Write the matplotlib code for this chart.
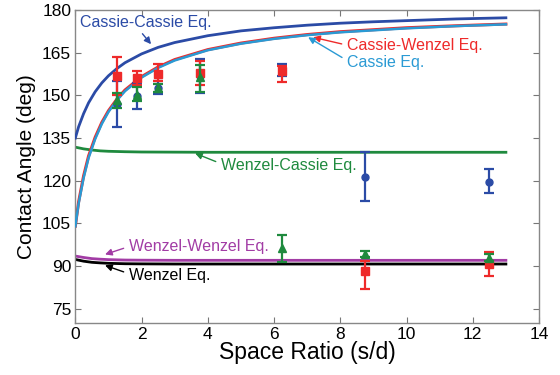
import matplotlib
matplotlib.use("Agg")
import matplotlib.pyplot as plt

plt.rcParams['font.family'] = ['Liberation Sans', 'DejaVu Sans']

# ---- data ----
x_pts = [1.25, 1.875, 2.5, 3.75, 6.25, 8.75, 12.5]

blue_y = [147.0, 149.8, 152.5, 156.8, 159.0, 121.4, 119.7]
blue_lo = [138.8, 145.3, 150.4, 150.8, 157.0, 112.8, 115.8]
blue_hi = [155.1, 154.3, 154.9, 162.7, 161.0, 130.1, 124.0]

red_y = [157.0, 156.2, 157.7, 157.8, 158.7, 88.4, 90.6]
red_lo = [150.2, 153.5, 154.9, 153.5, 154.6, 81.9, 86.6]
red_hi = [163.5, 158.5, 161.0, 162.1, 160.3, 91.6, 94.8]

green_y = [148.5, 150.0, 152.5, 156.4, 96.2, 94.1, 92.7]
green_lo = [145.5, 148.0, 151.2, 151.3, 91.5, 93.2, 91.7]
green_hi = [151.0, 153.1, 154.0, 160.7, 101.0, 95.4, 94.4]

curve_x = [0, 0.1, 0.25, 0.4, 0.6, 0.8, 1.0, 1.25, 1.5, 2, 2.5, 3, 4, 5, 6, 7, 8, 9, 10, 11.5, 13]
cassie = [104, 112, 121, 128, 134.7, 140, 144.2, 148.2, 151.5, 156.3, 159.7, 162.3,
          165.9, 168.2, 169.9, 171.2, 172.2, 172.9, 173.6, 174.4, 175.0]
cassie_wenzel = [104, 112.6, 121.7, 128.7, 135.3, 140.5, 144.6, 148.6, 151.9, 156.6, 160.0,
                 162.6, 166.1, 168.4, 170.1, 171.4, 172.4, 173.1, 173.8, 174.5, 175.1]
cassie_cassie = [135, 139.0, 143.6, 147.4, 151.3, 154.4, 156.9, 159.4, 161.5, 164.6, 166.9,
                 168.6, 171.0, 172.7, 173.8, 174.7, 175.4, 175.9, 176.3, 176.9, 177.3]

flat_x = [0, 0.25, 0.5, 0.75, 1, 1.5, 2, 3, 4, 6, 8, 10, 13]
wenzel_cassie = [131.8, 131.2, 130.8, 130.5, 130.35, 130.2, 130.1, 130.05, 130.0, 130.0, 130.0, 130.0, 130.0]
wenzel_wenzel = [93.5, 93.0, 92.6, 92.4, 92.25, 92.1, 92.05, 92.0, 92.0, 92.0, 92.0, 92.0, 92.0]
wenzel = [92.3, 91.7, 91.3, 91.1, 90.95, 90.8, 90.75, 90.7, 90.7, 90.7, 90.7, 90.7, 90.7]

# ---- colors ----
c_dblue = '#2B4BA6'
c_lblue = '#2A9AD4'
c_red = '#EE2A2A'
c_green = '#1F8A3E'
c_purple = '#A23CA5'
c_black = '#000000'

fig = plt.figure(figsize=(5.6, 3.75), dpi=100)
ax = fig.add_axes([0.1345, 0.139, 0.828, 0.834])

ax.plot(flat_x, wenzel, color=c_black, lw=2, zorder=2)
ax.plot(flat_x, wenzel_wenzel, color=c_purple, lw=2, zorder=2)
ax.plot(flat_x, wenzel_cassie, color=c_green, lw=2, zorder=2)
ax.plot(curve_x, cassie_wenzel, color=c_red, lw=2.2, zorder=2)
ax.plot(curve_x, cassie, color=c_lblue, lw=1.8, zorder=3)
ax.plot(curve_x, cassie_cassie, color=c_dblue, lw=2, zorder=3)

def eb(y, lo, hi, color, marker, ms, z):
    yerr = [[a - b for a, b in zip(y, lo)], [b - a for a, b in zip(y, hi)]]
    ax.errorbar(x_pts, y, yerr=yerr, fmt=marker, color=color, ms=ms, lw=1.6,
                capsize=3.5, capthick=1.6, zorder=z)

eb(blue_y, blue_lo, blue_hi, c_dblue, 'o', 5, 4)
eb(red_y, red_lo, red_hi, c_red, 's', 5.5, 5)
eb(green_y, green_lo, green_hi, c_green, '^', 6, 6)

ax.set_xlim(0, 14)
ax.set_ylim(70, 180)
ax.set_xticks(range(0, 15, 2))
ax.set_yticks(range(75, 181, 15))
ax.tick_params(direction='in', top=True, right=True, labelsize=12.5, length=4,
               color='#777777', pad=3)
for s in ax.spines.values():
    s.set_color('#888888')
    s.set_linewidth(1)
ax.set_xlabel('Space Ratio (s/d)', fontsize=16.5, labelpad=-1)
ax.set_ylabel('Contact Angle (deg)', fontsize=15, labelpad=4)

def d2x(px):
    return (px - 75.3) / 33.1

def d2y(py):
    return (325 - py) / 2.867 + 70

def ann(text, tip, txt, color, relpos, shrinkA=2):
    ax.annotate(text, xy=(d2x(tip[0]), d2y(tip[1])), xytext=(d2x(txt[0]), d2y(txt[1])),
                color=color, fontsize=11.5, va='center', ha='left', zorder=7,
                arrowprops=dict(arrowstyle='-|>', color=color, lw=1, mutation_scale=10,
                                shrinkA=shrinkA, shrinkB=0, relpos=relpos))

ann('Cassie-Cassie Eq.', (151, 44), (80, 22), c_dblue, (0.45, 0.0), shrinkA=1)
ann('Cassie-Wenzel Eq.', (313, 37), (347, 45), c_red, (0.0, 0.5))
ann('Cassie Eq.', (308, 37), (347, 62), c_lblue, (0.0, 0.6))
ann('Wenzel-Cassie Eq.', (195, 154), (221, 166), c_green, (0.0, 0.6))
ann('Wenzel-Wenzel Eq.', (105, 256), (129, 248), c_purple, (0.0, 0.5))
ann('Wenzel Eq.', (105, 267), (129, 277), c_black, (0.0, 0.6))

fig.savefig('out.png', dpi=100)
